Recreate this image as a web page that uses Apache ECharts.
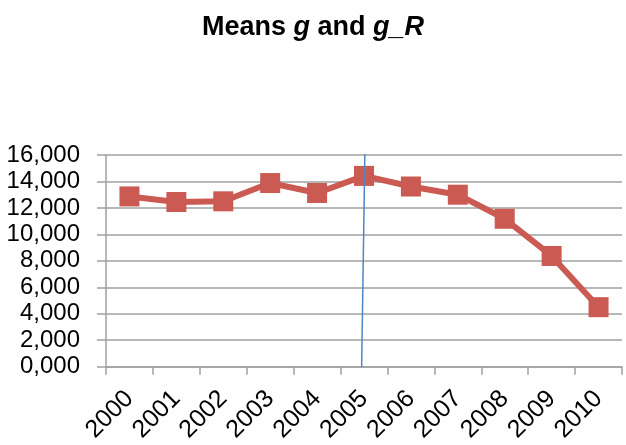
<!DOCTYPE html>
<html><head><meta charset="utf-8">
<script src="https://cdn.jsdelivr.net/npm/echarts@6/dist/echarts.min.js"></script>
<style>html,body{margin:0;padding:0;background:#fff}#c{width:626px;height:445px}</style>
</head><body><div id="c"></div>
<script>
const years = ['2000','2001','2002','2003','2004','2005','2006','2007','2008','2009','2010'];
const means = [12.87, 12.45, 12.5, 13.88, 13.13, 14.42, 13.62, 13.0, 11.18, 8.37, 4.5];
const markerLineX = [5.52, 5.45];
const markerLineY = [16.52, 0];
const yTicks = {min: 0, max: 16, interval: 2};

const chart = echarts.init(document.getElementById('c'));
const font = 'Liberation Sans';
chart.setOption({
  animation: false,
  title: {
    text: '{b|Means }{i|g}{b| and }{i|g_R}',
    left: 'center', top: 9,
    textStyle: {
      rich: {
        b: {fontFamily: font, fontWeight: 'bold', fontSize: 27, color: '#000'},
        i: {fontFamily: font, fontWeight: 'bold', fontStyle: 'italic', fontSize: 27, color: '#000'}
      }
    }
  },
  grid: {left: 106, right: 4, top: 155, bottom: 77, containLabel: false},
  xAxis: [{
    type: 'category', data: years, boundaryGap: true,
    axisLine: {lineStyle: {color: '#a0a0a0', width: 1.5}},
    axisTick: {show: true, length: 8, lineStyle: {color: '#a0a0a0', width: 1.5}},
    axisLabel: {rotate: 45, fontFamily: font, fontSize: 25, color: '#000', margin: 28}
  }, {
    type: 'value', min: 0, max: 11, show: false
  }],
  yAxis: {
    type: 'value', min: yTicks.min, max: yTicks.max, interval: yTicks.interval,
    axisLine: {show: true, lineStyle: {color: '#a0a0a0', width: 1.5}},
    axisTick: {show: true, length: 9, lineStyle: {color: '#a0a0a0', width: 1.5}},
    splitLine: {lineStyle: {color: '#a0a0a0', width: 1.5}},
    axisLabel: {fontFamily: font, fontSize: 24, color: '#000', margin: 26,
      formatter: v => v.toFixed(3).replace('.', ',')}
  },
  series: [{
    type: 'line', data: means, xAxisIndex: 0,
    symbol: 'rect', symbolSize: 20,
    lineStyle: {color: '#CB5A52', width: 6},
    itemStyle: {color: '#CB5A52'}
  }, {
    type: 'line', xAxisIndex: 1, symbol: 'none',
    data: markerLineX.map((x, i) => [x, markerLineY[i]]),
    lineStyle: {color: '#4F86C6', width: 1.5},
    z: 5
  }]
});
</script></body></html>
